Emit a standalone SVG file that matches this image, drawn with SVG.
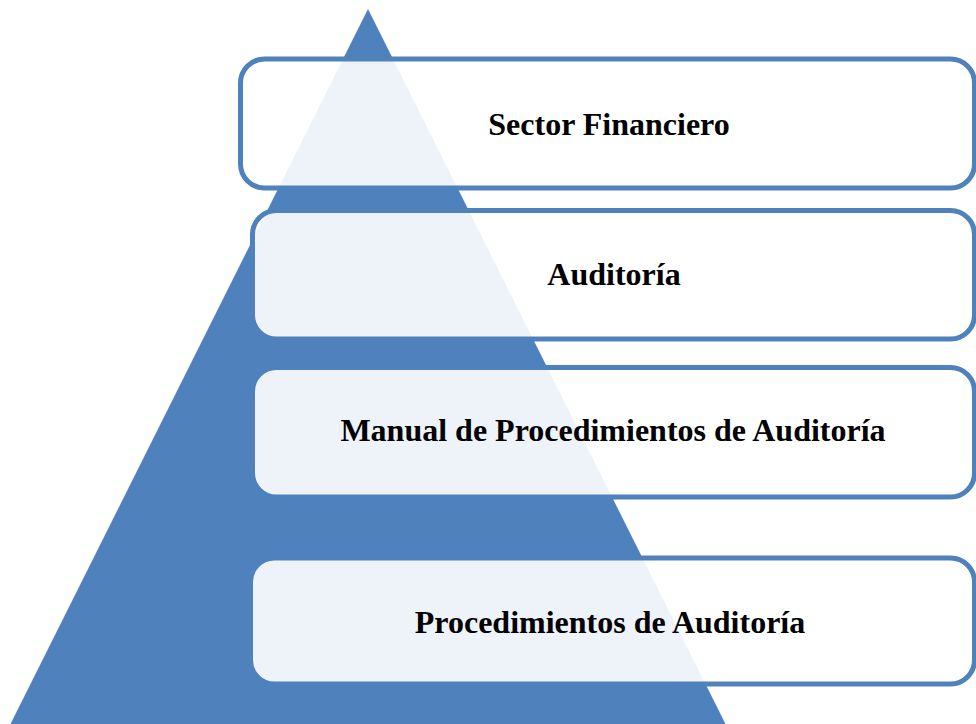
<svg xmlns="http://www.w3.org/2000/svg" width="976" height="724" viewBox="0 0 976 724">
  <style>
    .tri { fill: #4f81bd; }
    .box { fill: #ffffff; fill-opacity: 0.9; stroke: #4f81bd; stroke-width: 5; }
    .lbl { font-family: "Liberation Serif", "Times New Roman", serif; font-weight: bold; font-size: 32px; fill: #000000; text-anchor: middle; }
  </style>
  <rect x="0" y="0" width="976" height="724" fill="#ffffff"/>
  <g id="pyramid">
    <polygon class="tri" points="368,9 8.5,728 727.5,728"/>
  </g>
  <g id="connectors"></g>
  <g id="node-sector">
    <rect class="box" x="240.5" y="59" width="734" height="129" rx="24" ry="24"/>
    <text class="lbl" x="609" y="135">Sector Financiero</text>
  </g>
  <g id="node-auditoria">
    <rect class="box" x="252.5" y="210.5" width="722" height="128.5" rx="24" ry="24"/>
    <text class="lbl" x="614" y="285">Auditoría</text>
  </g>
  <g id="node-manual">
    <rect class="box" x="252.5" y="367.5" width="722" height="129.5" rx="24" ry="24"/>
    <text class="lbl" x="613" y="441">Manual de Procedimientos de Auditoría</text>
  </g>
  <g id="node-procedimientos">
    <rect class="box" x="250.5" y="558" width="724" height="126" rx="24" ry="24"/>
    <text class="lbl" x="610" y="633">Procedimientos de Auditoría</text>
  </g>
</svg>
